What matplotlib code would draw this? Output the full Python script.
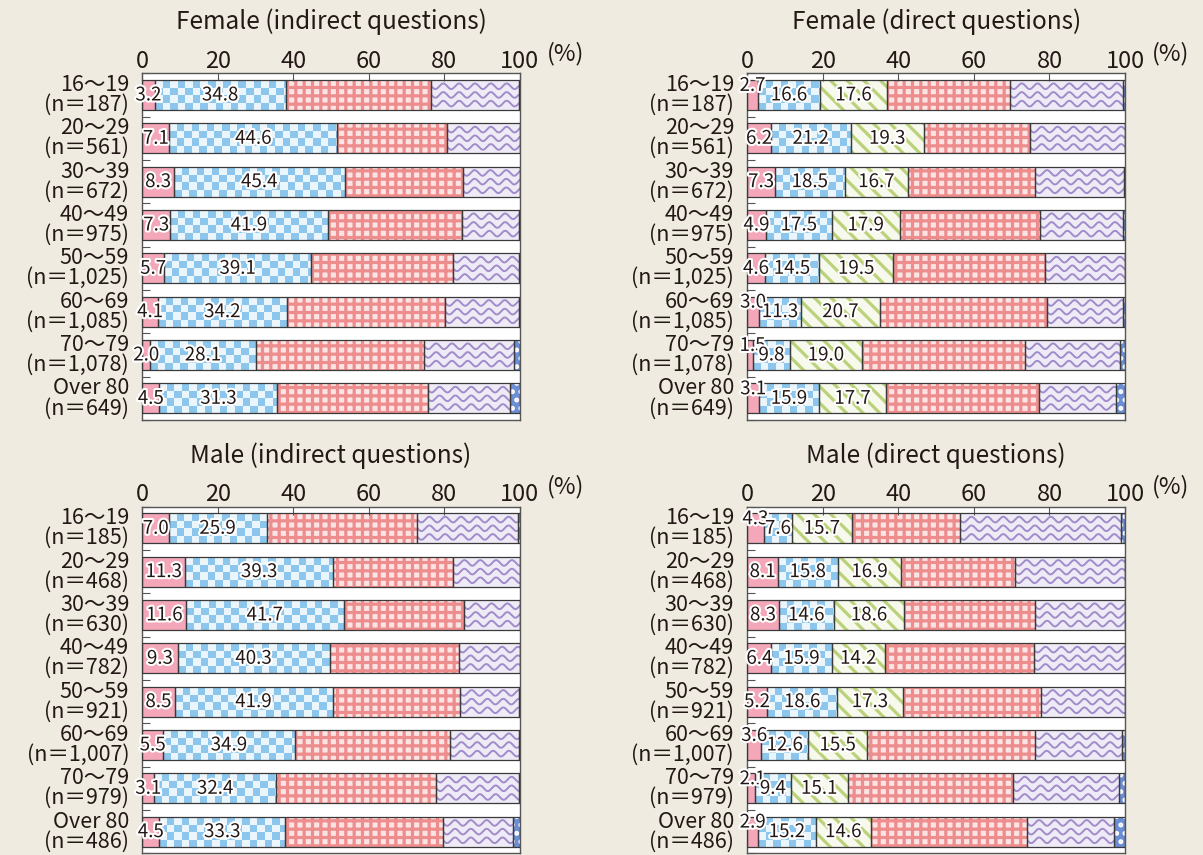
import numpy as np
import matplotlib
matplotlib.use("Agg")
import matplotlib.pyplot as plt
import matplotlib.patheffects as pe
from matplotlib.colors import ListedColormap

plt.rcParams['font.family'] = ['Noto Sans CJK JP', 'DejaVu Sans']
plt.rcParams['hatch.linewidth'] = 2.3

#### data

ages = ["16～19", "20～29", "30～39", "40～49", "50～59", "60～69", "70～79", "Over 80"]
n_female = ["187", "561", "672", "975", "1,025", "1,085", "1,078", "649"]
n_male = ["185", "468", "630", "782", "921", "1,007", "979", "486"]

# Female (indirect questions)
fi_1 = [3.2, 7.1, 8.3, 7.3, 5.7, 4.1, 2.0, 4.5]
fi_2 = [34.8, 44.6, 45.4, 41.9, 39.1, 34.2, 28.1, 31.3]
fi_4 = [38.6, 29.1, 31.2, 35.4, 37.5, 42.0, 44.6, 39.8]
fi_5 = [23.1, 19.2, 15.1, 15.2, 17.5, 19.5, 23.9, 21.7]
fi_6 = [0.3, 0.0, 0.0, 0.2, 0.2, 0.2, 1.4, 2.7]

# Female (direct questions)
fd_1 = [2.7, 6.2, 7.3, 4.9, 4.6, 3.0, 1.5, 3.1]
fd_2 = [16.6, 21.2, 18.5, 17.5, 14.5, 11.3, 9.8, 15.9]
fd_3 = [17.6, 19.3, 16.7, 17.9, 19.5, 20.7, 19.0, 17.7]
fd_4 = [32.6, 28.1, 33.7, 37.1, 40.1, 44.3, 43.3, 40.5]
fd_5 = [30.0, 25.2, 23.5, 22.0, 21.3, 20.2, 25.1, 20.3]
fd_6 = [0.5, 0.0, 0.3, 0.6, 0.0, 0.5, 1.3, 2.5]

# Male (indirect questions)
mi_1 = [7.0, 11.3, 11.6, 9.3, 8.5, 5.5, 3.1, 4.5]
mi_2 = [25.9, 39.3, 41.7, 40.3, 41.9, 34.9, 32.4, 33.3]
mi_4 = [40.0, 31.6, 31.9, 34.2, 33.7, 41.0, 42.4, 41.9]
mi_5 = [26.7, 17.8, 14.8, 16.2, 15.7, 18.4, 21.8, 18.4]
mi_6 = [0.4, 0.0, 0.0, 0.0, 0.2, 0.2, 0.3, 1.9]

# Male (direct questions)
md_1 = [4.3, 8.1, 8.3, 6.4, 5.2, 3.6, 2.1, 2.9]
md_2 = [7.6, 15.8, 14.6, 15.9, 18.6, 12.6, 9.4, 15.2]
md_3 = [15.7, 16.9, 18.6, 14.2, 17.3, 15.5, 15.1, 14.6]
md_4 = [28.6, 30.0, 34.7, 39.3, 36.6, 44.4, 43.7, 41.4]
md_5 = [42.8, 29.2, 23.8, 24.2, 22.3, 23.2, 28.0, 22.9]
md_6 = [1.0, 0.0, 0.0, 0.0, 0.0, 0.7, 1.7, 3.0]

#### style

bg = '#EFEBE1'
edge = '#3a3a3a'
txt = '#231815'
pink = '#F4A7B9'
blue = '#8DC6EC'
blue_pale = '#EAF5FC'
green = '#BBD27A'
green_pale = '#F6F9EC'
red = '#EE8D8D'
red_pale = '#FCE4E4'
lav = '#EFEBF6'
lav_line = '#A08CCB'
dots = '#6C8ED4'
bh = 0.69
halo = [pe.withStroke(linewidth=3, foreground='white')]


def checker(ax, bar):
    x0, y0, w, h = bar.get_x(), bar.get_y(), bar.get_width(), bar.get_height()
    nx = int(np.ceil(w / 2.0))
    img = np.add.outer(np.arange(4), np.arange(nx)) % 2
    im = ax.imshow(img, cmap=ListedColormap([blue, blue_pale]), extent=(x0, x0 + nx * 2.0, y0, y0 + h),
                   aspect='auto', interpolation='nearest', zorder=2)
    im.set_clip_path(bar)


def waves(ax, bar):
    x0, y0, w, h = bar.get_x(), bar.get_y(), bar.get_width(), bar.get_height()
    xs = np.linspace(x0, x0 + w, max(int(w * 10), 2))
    for k in (0.21, 0.5, 0.79):
        ln, = ax.plot(xs, y0 + k * h + 0.065 * np.sin(2 * np.pi * (xs - x0) / 4.2),
                      color=lav_line, lw=1.4, zorder=2)
        ln.set_clip_path(bar)


def panel(ax, title, nlist, c1, c2, c3, c4, c5, c6):
    y = np.arange(len(ages))
    left = np.zeros(len(ages))
    ax.set_facecolor('white')

    segs = [('pink', c1), ('check', c2), ('stripe', c3), ('grid', c4), ('wave', c5), ('dots', c6)]
    for kind, vals in segs:
        if vals is None:
            continue
        vals = np.array(vals)
        if kind == 'pink':
            ax.barh(y, vals, left=left, height=bh, color=pink, lw=0, zorder=1)
        elif kind == 'check':
            bars = ax.barh(y, vals, left=left, height=bh, color=blue_pale, lw=0, zorder=1)
            for b in bars:
                if b.get_width() > 0:
                    checker(ax, b)
        elif kind == 'stripe':
            ax.barh(y, vals, left=left, height=bh, color=green_pale, edgecolor=green,
                    hatch='\\\\', lw=0, zorder=1)
        elif kind == 'grid':
            ax.barh(y, vals, left=left, height=bh, color=red_pale, edgecolor=red,
                    hatch='++', lw=0, zorder=1)
        elif kind == 'wave':
            bars = ax.barh(y, vals, left=left, height=bh, color=lav, lw=0, zorder=1)
            for b in bars:
                waves(ax, b)
        else:
            ax.barh(y, vals, left=left, height=bh, color=dots, edgecolor='white',
                    hatch='..', lw=0, zorder=1)
        ax.barh(y, vals, left=left, height=bh, fill=False, edgecolor=edge, lw=0.9, zorder=4)

        # value labels for the first segments
        if kind in ('pink', 'check', 'stripe'):
            for i in range(len(y)):
                xx = left[i] + vals[i] / 2
                yy = y[i]
                if kind == 'pink' and c3 is not None and vals[i] < 4.5:
                    xx = max(xx, 1.4)
                    yy = y[i] - 0.22
                ax.text(xx, yy, f"{vals[i]:.1f}", ha='center', va='center',
                        fontsize=13.5, color=txt, path_effects=halo, zorder=6)
        left = left + vals

    ax.set_xlim(0, 100)
    ax.set_ylim(7.5, -0.5)
    ax.xaxis.tick_top()
    ax.set_xticks([0, 20, 40, 60, 80, 100])
    ax.tick_params(axis='x', direction='in', length=6, width=0.8, color='#555',
                   labelsize=17, pad=0.5, labelcolor=txt)
    ax.set_yticks(np.arange(-0.5, 8, 1))
    ax.set_yticklabels([])
    ax.tick_params(axis='y', direction='in', length=6, width=0.8, color='#555')
    for s in ax.spines.values():
        s.set_color('#555')
        s.set_linewidth(1)

    tr = ax.get_yaxis_transform()
    for i in range(len(ages)):
        ax.text(-0.035, i, ages[i] + "\n(n＝" + nlist[i] + ")", transform=tr, ha='right',
                va='center', multialignment='right', linespacing=0.88, fontsize=15.5, color=txt)

    ax.text(1.072, 1.058, "(%)", transform=ax.transAxes, ha='left', va='center',
            fontsize=17, color=txt)
    ax.text(0.5, 1.148, title, transform=ax.transAxes, ha='center', va='center',
            fontsize=17.5, color=txt)


fig = plt.figure(figsize=(12.03, 8.55), dpi=100)
fig.patch.set_facecolor(bg)

ax1 = fig.add_axes([0.1184, 0.5088, 0.3136, 0.4055])
ax2 = fig.add_axes([0.6212, 0.5088, 0.3140, 0.4055])
ax3 = fig.add_axes([0.1184, 0.002, 0.3136, 0.4055])
ax4 = fig.add_axes([0.6212, 0.002, 0.3140, 0.4055])

panel(ax1, "Female (indirect questions)", n_female, fi_1, fi_2, None, fi_4, fi_5, fi_6)
panel(ax2, "Female (direct questions)", n_female, fd_1, fd_2, fd_3, fd_4, fd_5, fd_6)
panel(ax3, "Male (indirect questions)", n_male, mi_1, mi_2, None, mi_4, mi_5, mi_6)
panel(ax4, "Male (direct questions)", n_male, md_1, md_2, md_3, md_4, md_5, md_6)

fig.savefig("out.png", dpi=100, facecolor=bg)
